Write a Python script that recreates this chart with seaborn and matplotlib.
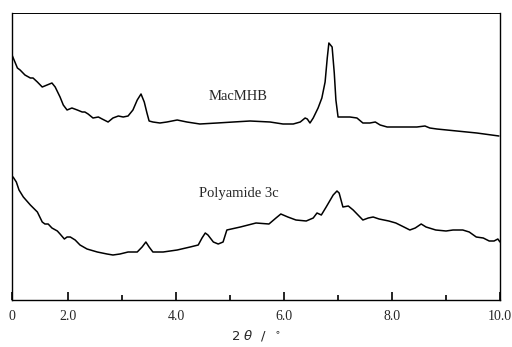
import numpy as np
import pandas as pd
import matplotlib
matplotlib.use("Agg")
import matplotlib.pyplot as plt
import seaborn as sns

# Curvas: 2theta (grados) e intensidad (unidades arbitrarias)
mac_2theta = [0.96, 1.06, 1.11, 1.20, 1.30, 1.35, 1.43, 1.52, 1.61, 1.70, 1.76, 1.85,
              1.91, 1.98, 2.07, 2.17, 2.26, 2.31, 2.37, 2.46, 2.56, 2.63, 2.74, 2.83,
              2.93, 3.02, 3.11, 3.20, 3.28, 3.35, 3.41, 3.46, 3.50, 3.57, 3.70, 3.83,
              4.02, 4.20, 4.44, 4.76, 5.06, 5.37, 5.74, 5.98, 6.17, 6.30, 6.39, 6.43,
              6.48, 6.54, 6.63, 6.70, 6.76, 6.80, 6.83, 6.89, 6.93, 6.96, 7.00, 7.09,
              7.22, 7.35, 7.46, 7.59, 7.69, 7.78, 7.91, 8.15, 8.46, 8.61, 8.70, 8.83,
              9.20, 9.57, 9.98]
mac_int = [245, 232, 230, 225, 222, 222, 218, 213, 215, 217, 213, 203,
           195, 190, 192, 190, 188, 188, 186, 182, 183, 181, 178, 182,
           184, 183, 184, 190, 200, 206, 198, 187, 179, 178, 177, 178,
           180, 178, 176, 177, 178, 179, 178, 176, 176, 178, 182, 181,
           177, 182, 192, 202, 218, 242, 257, 253, 227, 200, 183, 183,
           183, 182, 177, 177, 178, 175, 173, 173, 173, 174, 172, 171,
           169, 167, 164]

pa_2theta = [0.98, 1.04, 1.09, 1.17, 1.30, 1.43, 1.52, 1.57, 1.63, 1.70, 1.80, 1.85,
             1.93, 1.98, 2.04, 2.13, 2.22, 2.35, 2.54, 2.72, 2.83, 2.96, 3.11, 3.28,
             3.37, 3.44, 3.50, 3.57, 3.76, 4.02, 4.26, 4.41, 4.48, 4.54, 4.59, 4.69,
             4.78, 4.87, 4.94, 5.19, 5.48, 5.72, 5.85, 5.94, 6.07, 6.22, 6.41, 6.54,
             6.61, 6.69, 6.78, 6.91, 6.98, 7.02, 7.09, 7.19, 7.28, 7.37, 7.46, 7.56,
             7.65, 7.76, 7.94, 8.07, 8.22, 8.33, 8.43, 8.54, 8.63, 8.81, 9.00, 9.13,
             9.31, 9.43, 9.56, 9.69, 9.80, 9.89, 9.96, 10.0]
pa_int = [123, 118, 110, 103, 95, 88, 78, 76, 76, 72, 69, 66,
          61, 63, 63, 60, 55, 51, 48, 46, 45, 46, 48, 48,
          53, 58, 53, 48, 48, 50, 53, 55, 62, 67, 65, 58,
          56, 58, 70, 73, 77, 76, 82, 86, 83, 80, 79, 82,
          87, 85, 93, 105, 109, 107, 93, 94, 90, 85, 80, 82,
          83, 81, 79, 77, 73, 70, 72, 76, 73, 70, 69, 70,
          70, 68, 63, 62, 59, 59, 61, 58]

tick_pos = [0.96, 2, 4, 6, 8, 10]
tick_labels = ["0", "2.0", "4.0", "6.0", "8.0", "10.0"]
minor_pos = [3, 5, 7, 9]

sns.set_style("white")

fig = plt.figure(figsize=(5.12, 3.47), dpi=100)
ax = fig.add_axes([12 / 512, 1 - 300 / 347, 488 / 512, 287 / 347])

sns.lineplot(x=mac_2theta, y=mac_int, ax=ax, color="black", lw=1.1, sort=False)
sns.lineplot(x=pa_2theta, y=pa_int, ax=ax, color="black", lw=1.1, sort=False)

ax.text(5.15, 204, "MacMHB", ha="center", va="center",
        family="Liberation Serif", fontsize=10.5)
ax.text(5.17, 107, "Polyamide 3c", ha="center", va="center",
        family="Liberation Serif", fontsize=10.5)

ax.set_xlim(0.96, 10.0)
ax.set_ylim(0, 287)
ax.set_xticks(tick_pos)
ax.set_xticklabels(tick_labels, family="Liberation Serif", fontsize=10)
ax.set_xticks(minor_pos, minor=True)
ax.tick_params(axis="x", which="both", bottom=True, top=False)
ax.tick_params(axis="x", which="major", direction="in", length=6, width=1.2,
               pad=7, color="black")
ax.tick_params(axis="x", which="minor", direction="in", length=3.5, width=1.2,
               color="black")
ax.set_yticks([])
ax.set_xlabel(r"2 $\theta$  /  $^\circ$", fontsize=9.5, labelpad=4)

for s in ax.spines.values():
    s.set_visible(True)
    s.set_color("black")
    s.set_linewidth(1.0)
ax.spines["top"].set_linewidth(0.7)

fig.savefig("out.png", dpi=100)
